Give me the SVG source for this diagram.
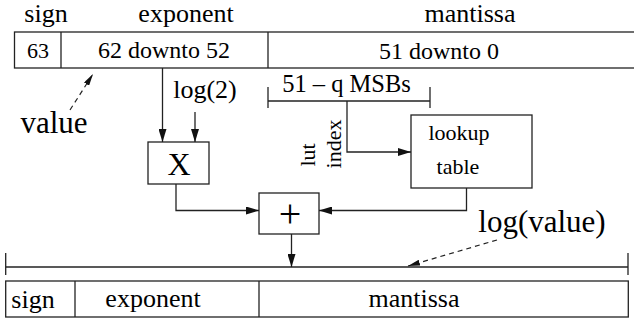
<svg xmlns="http://www.w3.org/2000/svg" width="634" height="320" viewBox="0 0 634 320">
  <style>
    .ln { fill: none; stroke: #222; stroke-width: 1.3; }
    .box { fill: #fff; stroke: #222; stroke-width: 1.3; }
    .dash { fill: none; stroke: #222; stroke-width: 1.2; stroke-dasharray: 5 4; }
    text { font-family: "Liberation Serif", "Times New Roman", serif; fill: #000; text-anchor: middle; }
    .lbl { font-size: 26px; }
    .fld { font-size: 24px; }
    .big { font-size: 31px; }
    .sm { font-size: 22px; }
  </style>
  <defs>
    <marker id="arr" viewBox="0 0 13 8" refX="13" refY="4" markerWidth="13" markerHeight="8" markerUnits="userSpaceOnUse" orient="auto">
      <path d="M0,0 L13,4 L0,8 z" fill="#111"/>
    </marker>
    <marker id="darr" viewBox="0 0 12 6" refX="12" refY="3" markerWidth="12" markerHeight="6" markerUnits="userSpaceOnUse" orient="auto">
      <path d="M0,0 L12,3 L0,6 z" fill="#111"/>
    </marker>
  </defs>

  <!-- input word: 64-bit double -->
  <g id="input-word">
    <text class="lbl" x="46" y="22">sign</text>
    <text class="lbl" x="186" y="22">exponent</text>
    <text class="lbl" x="470" y="22">mantissa</text>
    <rect class="box" x="14.5" y="32" width="625" height="36"/>
    <line class="ln" x1="61" y1="32" x2="61" y2="68"/>
    <line class="ln" x1="268" y1="32" x2="268" y2="68"/>
    <text class="fld" x="38" y="58" style="font-size:22px">63</text>
    <text class="fld" x="164" y="58">62 downto 52</text>
    <text class="fld" x="439" y="59">51 downto 0</text>
  </g>

  <g id="value-label">
    <text class="big" x="54" y="133">value</text>
  </g>

  <g id="log2-label">
    <text class="lbl" x="205" y="98">log(2)</text>
  </g>

  <!-- bracket over the mantissa MSBs -->
  <g id="msb-bracket">
    <text x="346.5" y="92" style="font-size:24.5px">51 – q MSBs</text>
    <line class="ln" x1="268" y1="101" x2="430" y2="101"/>
    <line class="ln" x1="268" y1="87" x2="268" y2="108"/>
    <line class="ln" x1="430" y1="87" x2="430" y2="108"/>
  </g>

  <g id="lut-index-label">
    <text class="sm" transform="translate(315,155) rotate(-90)">lut</text>
    <text class="sm" transform="translate(341,144) rotate(-90)">index</text>
  </g>

  <g id="multiplier">
    <rect class="box" x="148" y="142" width="61" height="42"/>
    <text x="179" y="175" style="font-size:32px">X</text>
  </g>

  <g id="lookup-table">
    <rect class="box" x="411" y="115" width="121" height="73"/>
    <text class="sm" x="459" y="140">lookup</text>
    <text class="sm" x="458" y="174">table</text>
  </g>

  <g id="adder">
    <rect class="box" x="259" y="193" width="60" height="41"/>
    <text x="290" y="227" style="font-size:40px">+</text>
  </g>

  <g id="log-value-label">
    <text class="big" x="542" y="232">log(value)</text>
  </g>

  <!-- output word -->
  <g id="output-word">
    <line class="ln" x1="5.7" y1="267" x2="628" y2="267"/>
    <line class="ln" x1="5.7" y1="253" x2="5.7" y2="275"/>
    <line class="ln" x1="628" y1="253" x2="628" y2="275"/>
    <rect class="box" x="5.7" y="281" width="622.6" height="36"/>
    <line class="ln" x1="75" y1="281" x2="75" y2="317"/>
    <line class="ln" x1="259" y1="281" x2="259" y2="317"/>
    <text class="lbl" x="33" y="308">sign</text>
    <text class="lbl" x="153" y="307">exponent</text>
    <text class="lbl" x="414" y="307">mantissa</text>
  </g>

  <g id="connectors">
    <line class="ln" x1="162.5" y1="68" x2="162.5" y2="142" marker-end="url(#arr)"/>
    <line class="ln" x1="195" y1="112" x2="195" y2="142" marker-end="url(#arr)"/>
    <polyline class="ln" points="347,101 347,152 411,152" marker-end="url(#arr)"/>
    <polyline class="ln" points="176,184 176,210.5 259,210.5" marker-end="url(#arr)"/>
    <polyline class="ln" points="466.5,188 466.5,210.5 319,210.5" marker-end="url(#arr)"/>
    <line class="ln" x1="291.5" y1="234" x2="291.5" y2="267" marker-end="url(#arr)"/>
    <line class="dash" x1="70" y1="110" x2="93" y2="74" marker-end="url(#darr)"/>
    <line class="dash" x1="497" y1="240" x2="408" y2="266" marker-end="url(#darr)"/>
  </g>
</svg>
